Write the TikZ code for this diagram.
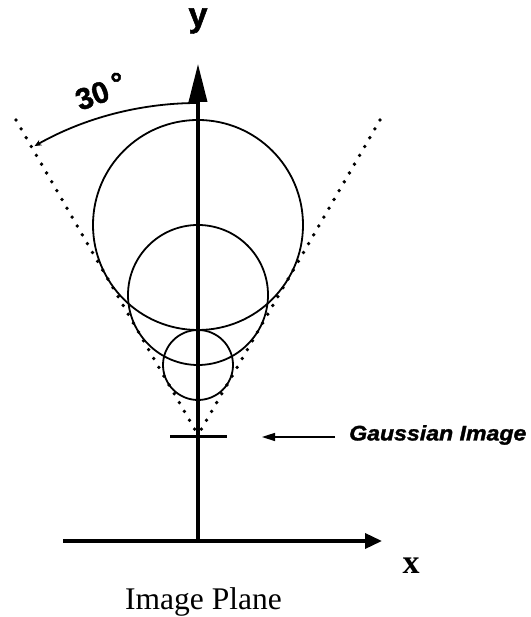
\documentclass[tikz,border=0pt]{standalone}
\usepackage{fontspec}
\usepackage{graphicx}
\setmainfont{Liberation Serif}
\newfontfamily\hel[FakeBold=1.5]{Liberation Sans}
\usetikzlibrary{arrows.meta}
\begin{document}
\begin{tikzpicture}[x=1pt,y=1pt,
  axis/.style={line width=3.5pt},
  circ/.style={line width=1.8pt},
  dotline/.style={line width=3.8pt, line cap=round, dash pattern=on 0pt off 10.2pt},
  lab/.style={inner sep=0pt}]
\useasboundingbox (0,0) rectangle (530,617);
% coordinates
\coordinate (O) at (198,76);
\coordinate (ytip) at (198,553);
\coordinate (xl) at (63,76);
\coordinate (xtip) at (382,76);
\coordinate (A) at (198,182);
\coordinate (L) at (16,497);
\coordinate (R) at (380,497);
\coordinate (arcS) at (198,514);
\coordinate (g1) at (170,180);
\coordinate (g2) at (227,180);
\coordinate (ga) at (335,180);
\coordinate (gb) at (262,180);
% cone
\draw[dotline] (L) -- (A);
\draw[dotline] (R) -- (A);
% circles
\draw[circ] (198,392) circle[radius=105];
\draw[circ] (198,322) circle[radius=70];
\draw[circ] (198,252) circle[radius=35];
% axes
\draw[axis,-{Triangle[length=38pt,width=18pt]}] (O) -- (ytip);
\draw[axis,-{Triangle[length=17pt,width=15pt]}] (xl) -- (xtip);
% angle arc
\draw[circ,-{Stealth[length=7pt,width=6pt]}] (arcS) arc[start angle=90, end angle=119.5, radius=332];
% gaussian image
\draw[line width=3pt] (g1) -- (g2);
\draw[line width=1.6pt,-{Triangle[length=13pt,width=8pt]}] (ga) -- (gb);
% labels
\node[lab, font=\hel\bfseries\fontsize{34}{34}\selectfont] (ylab) at (198,596) {y};
\node[lab, font=\bfseries\fontsize{34}{34}\selectfont] (xlab) at (411,51) {x};
\node[lab, anchor=base, font=\fontsize{31.5}{31.5}\selectfont] (plane) at (203.5,7) {Image Plane};
\node[lab, anchor=west, font=\hel\bfseries\itshape\fontsize{21}{21}\selectfont] (gauss) at (349,182) {\scalebox{1.1}[1]{Gaussian Image}};
\node[lab, rotate=20, anchor=base west, font=\hel\bfseries\fontsize{30}{30}\selectfont] (ang) at (80,506) {30\hspace{6pt}\raisebox{3pt}{°}};
\end{tikzpicture}
\end{document}
